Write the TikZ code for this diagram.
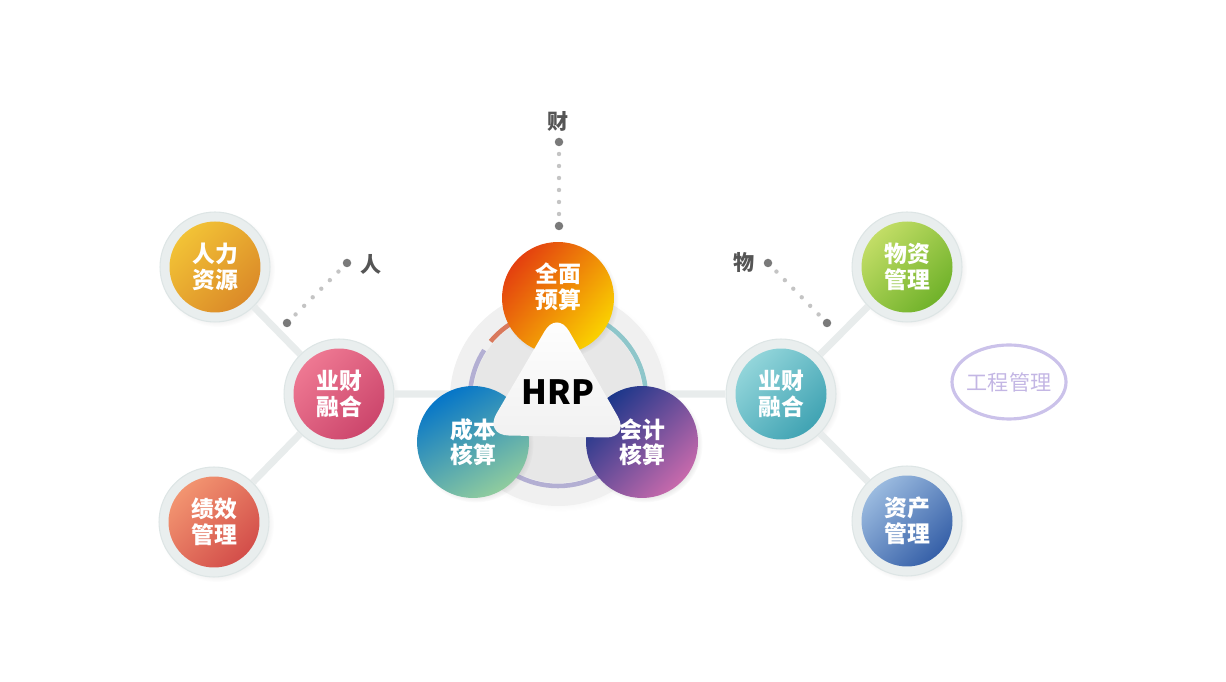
\documentclass[tikz,border=0pt]{standalone}
\usepackage{fontspec}
\usepackage{tikz}
\usetikzlibrary{positioning,calc,shadows,shapes.geometric}
\newfontfamily\cjk{Noto Sans CJK SC}

\definecolor{hubgray}{HTML}{F0F0F0}
\definecolor{hubin}{HTML}{E7E7E7}
\definecolor{halofill}{HTML}{E9EEEE}
\definecolor{haloedge}{HTML}{DDE5E5}
\definecolor{linkgray}{HTML}{E8ECEC}
\definecolor{taggray}{HTML}{555555}
\definecolor{dotdark}{HTML}{7A7A7A}
\definecolor{dotlight}{HTML}{C4C4C4}
\definecolor{arcorange}{HTML}{D9795C}
\definecolor{arclav}{HTML}{B3AFD3}
\definecolor{arcteal}{HTML}{8EC6CA}
\definecolor{lavtext}{HTML}{C3B6E4}
\definecolor{lavline}{HTML}{CBC2EA}
\definecolor{hrA}{HTML}{F2C236}\definecolor{hrB}{HTML}{DB8A28}
\definecolor{lycA}{HTML}{EE7892}\definecolor{lycB}{HTML}{CC466C}
\definecolor{jxA}{HTML}{F29470}\definecolor{jxB}{HTML}{D34E4A}
\definecolor{rycA}{HTML}{92D5DA}\definecolor{rycB}{HTML}{40A3B3}
\definecolor{wzA}{HTML}{C2DD66}\definecolor{wzB}{HTML}{70B22A}
\definecolor{zcA}{HTML}{9ABADF}\definecolor{zcB}{HTML}{3660A8}
\definecolor{qmA}{HTML}{E4400F}\definecolor{qmB}{HTML}{FAD200}
\definecolor{cbA}{HTML}{0676C8}\definecolor{cbB}{HTML}{90CC9E}
\definecolor{kjA}{HTML}{1A368A}\definecolor{kjB}{HTML}{C86AAC}
\definecolor{triB}{HTML}{F1F1F1}

\begin{document}
\begin{tikzpicture}[x=0.02cm,y=0.02cm,
    halo/.style={circle,fill=halofill,draw=haloedge,line width=0.6pt,minimum size=2.2cm,inner sep=0pt,
      circular drop shadow={shadow scale=1.05,opacity=0.15}},
    ball/.style={circle,minimum size=1.82cm,inner sep=0pt,text=white,align=center,
      font=\cjk\bfseries\fontsize{13}{14.5}\selectfont},
    grad/.style 2 args={top color=#1,bottom color=#2,shading angle=45},
    core ball/.style={ball,minimum size=2.24cm,circular drop shadow={shadow scale=1.04,opacity=0.25}},
    link/.style={draw=linkgray,line width=4pt},
    tag/.style={font=\cjk\bfseries\fontsize{12}{12}\selectfont,text=taggray},
    bigdot/.style={circle,fill=dotdark,minimum size=0.17cm,inner sep=0pt}]

  \useasboundingbox (0,0) rectangle (1226,682);

  % hub in the middle
  \node[circle,fill=hubgray,minimum size=4.32cm,circular drop shadow={shadow scale=1.03,opacity=0.12}] (hub) at (558,284) {};
  \node[circle,fill=hubin,minimum size=3.4cm] (hubin) at (hub) {};
  \draw[arcorange,line width=2.6pt] ([shift={(122:88)}]hub.center) arc[start angle=122,end angle=140,radius=88];
  \draw[arclav,line width=2.6pt] ([shift={(147:88)}]hub.center) arc[start angle=147,end angle=200,radius=88];
  \draw[arclav,line width=2.6pt] ([shift={(240:88)}]hub.center) arc[start angle=240,end angle=300,radius=88];
  \draw[arcteal,line width=2.6pt] ([shift={(0:88)}]hub.center) arc[start angle=0,end angle=58,radius=88];

  % left and right halos
  \node[halo] (lyc_h) at (339,288) {};
  \node[halo] (hr_h)  at (215,415) {};
  \node[halo] (jx_h)  at (214,160) {};
  \node[halo] (ryc_h) at (781,288) {};
  \node[halo] (wz_h)  at (907,415) {};
  \node[halo] (zc_h)  at (907,161) {};

  \path[link]
    (hr_h) -- (lyc_h)
    (jx_h) -- (lyc_h)
    (lyc_h.east) -- (lyc_h.east -| hub.west)
    (ryc_h.west -| hub.east) -- (ryc_h.west)
    (ryc_h) -- (wz_h)
    (ryc_h) -- (zc_h);

  \node[ball,grad={hrA}{hrB}]   (hr)  at (hr_h)  {人力\\资源};
  \node[ball,grad={lycA}{lycB}] (lyc) at (lyc_h) {业财\\融合};
  \node[ball,grad={jxA}{jxB}]   (jx)  at (jx_h)  {绩效\\管理};
  \node[ball,grad={rycA}{rycB}] (ryc) at (ryc_h) {业财\\融合};
  \node[ball,grad={wzA}{wzB}]   (wz)  at (wz_h)  {物资\\管理};
  \node[ball,grad={zcA}{zcB}]   (zc)  at (zc_h)  {资产\\管理};

  % three parts of HRP
  \node[core ball,grad={qmA}{qmB},shading angle=50] (qm) at (558,384) {};
  \node[ball] (qm_t) at ($(qm)+(0,11)$) {全面\\预算};
  \node[core ball,grad={cbA}{cbB},shading angle=30] (cb) at (473,240) {成本\\核算};
  \node[core ball,grad={kjA}{kjB}] (kj) at (642,240) {会计\\核算};

  \path[top color=white,bottom color=triB,rounded corners=14pt]
    (557,372) -- (484,247) -- (630,244) -- cycle;
  \node[font=\cjk\bfseries\fontsize{19}{19}\selectfont,text=black] (hrp) at (558,290) {HRP};

  % 人 财 物
  \node[tag] (ren) at (371,418) {人};
  \node[tag] (cai) at (558,561) {财};
  \node[tag] (wu)  at (744,420) {物};
  \node[bigdot] (ren_a) at (287,359) {};
  \node[bigdot] (ren_b) at (347,419) {};
  \node[bigdot] (cai_a) at (559,540) {};
  \node[bigdot] (cai_b) at (559,456) {};
  \node[bigdot] (wu_a)  at (768,419) {};
  \node[bigdot] (wu_b)  at (827,359) {};
  \foreach \a/\b in {ren_a/ren_b,cai_a/cai_b,wu_a/wu_b}
    \foreach \t in {1,...,6}
      \fill[dotlight] ($(\a)!\t/7!(\b)$) circle (2.2);

  \node[text=lavtext,font=\cjk\fontsize{12}{12}\selectfont] (gc) at (1009,300) {工程管理};
  \draw[lavline,line width=1.8pt] (gc.center) ellipse[x radius=57,y radius=37];
\end{tikzpicture}
\end{document}
